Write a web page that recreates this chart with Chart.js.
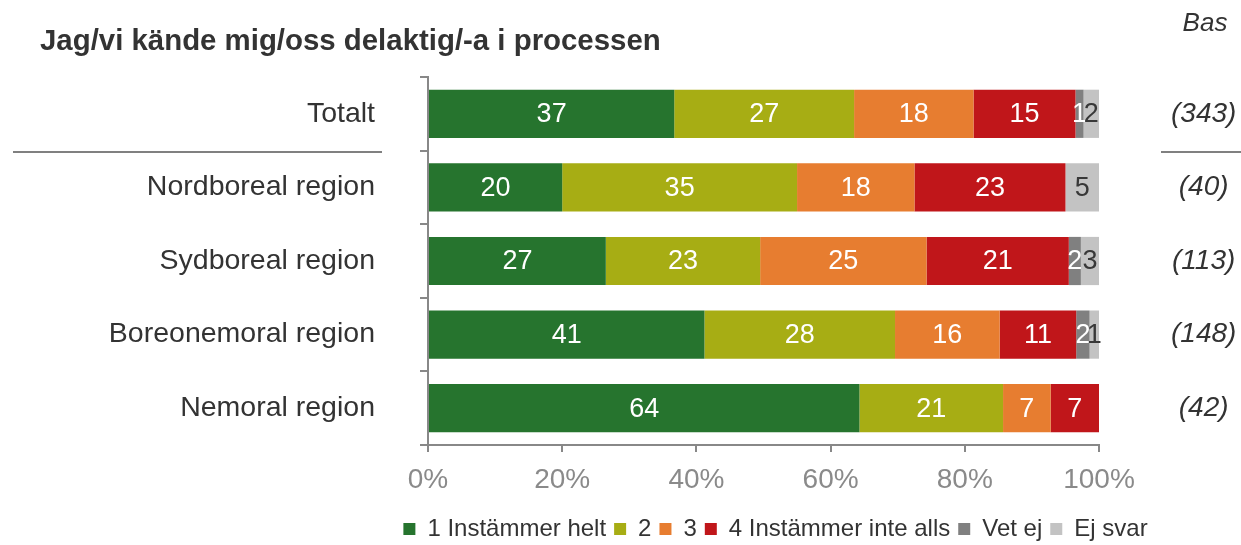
<!DOCTYPE html>
<html>
<head>
<meta charset="utf-8">
<script src="https://cdn.jsdelivr.net/npm/chart.js@4/dist/chart.umd.min.js"></script>
<style>
html,body{margin:0;padding:0;background:#fff;}
#wrap{width:1241px;height:545px;}
</style>
</head>
<body>
<div id="wrap"><canvas id="c" width="1241" height="545"></canvas></div>
<script>
const titleText = 'Jag/vi kände mig/oss delaktig/-a i processen';
const basTitle = 'Bas';
const categories = ['Totalt', 'Nordboreal region', 'Sydboreal region', 'Boreonemoral region', 'Nemoral region'];
const bases = ['(343)', '(40)', '(113)', '(148)', '(42)'];
const seriesNames = ['1 Instämmer helt', '2', '3', '4 Instämmer inte alls', 'Vet ej', 'Ej svar'];
const helt   = [36.7, 20.0, 26.5, 41.2, 64.3];
const two    = [26.8, 35.0, 23.0, 28.4, 21.4];
const three  = [17.8, 17.5, 24.8, 15.6, 7.1];
const four   = [15.2, 22.5, 21.2, 11.4, 7.2];
const vetEj  = [1.2, 0, 1.8, 2.0, 0];
const ejSvar = [2.3, 5.0, 2.7, 1.4, 0];
const xTicks = [0, 20, 40, 60, 80, 100];

const colors = ['#26742E', '#A7AD14', '#E77D30', '#C0161A', '#808080', '#C3C3C3'];
const labelColors = ['#fff', '#fff', '#fff', '#fff', '#fff', '#383838'];
const FONT = '"Liberation Sans", Arial, sans-serif';
const seriesData = [helt, two, three, four, vetEj, ejSvar];

const decorPlugin = {
  id: 'decor',
  afterLayout(chart) {
    const lg = chart.legend;
    if (lg) { lg.left += 155; lg.right += 155; }
  },
  afterDraw(chart) {
    const ctx = chart.ctx;
    const y = chart.scales.y;
    ctx.save();
    ctx.fillStyle = '#333';
    ctx.textBaseline = 'alphabetic';
    ctx.textAlign = 'left';
    ctx.font = 'bold 29.4px ' + FONT;
    ctx.fillText(titleText, 40, 50);
    ctx.font = 'italic 26px ' + FONT;
    ctx.textAlign = 'center';
    ctx.fillText(basTitle, 1205, 31);
    const sy = Math.round(y.getPixelForValue(0.5)) + 1;
    ctx.strokeStyle = '#808080';
    ctx.lineWidth = 2;
    ctx.beginPath();
    ctx.moveTo(13, sy); ctx.lineTo(382, sy);
    ctx.moveTo(1161, sy); ctx.lineTo(1241, sy);
    ctx.stroke();
    ctx.restore();
  }
};

const barLabelPlugin = {
  id: 'barLabels',
  afterDatasetsDraw(chart) {
    const ctx = chart.ctx;
    ctx.save();
    ctx.font = '27px ' + FONT;
    ctx.textAlign = 'center';
    ctx.textBaseline = 'middle';
    chart.data.datasets.forEach((ds, i) => {
      const meta = chart.getDatasetMeta(i);
      meta.data.forEach((el, j) => {
        const v = ds.data[j];
        if (v >= 0.5) {
          const p = el.getCenterPoint();
          ctx.fillStyle = labelColors[i];
          ctx.fillText(String(Math.round(v)), p.x, p.y + 1);
        }
      });
    });
    ctx.restore();
  }
};

new Chart(document.getElementById('c'), {
  type: 'bar',
  data: {
    labels: categories,
    datasets: seriesNames.map((n, i) => ({
      label: n,
      data: seriesData[i],
      backgroundColor: colors[i],
      borderWidth: 0,
      categoryPercentage: 1,
      barPercentage: 0.655,
      yAxisID: 'y'
    }))
  },
  options: {
    indexAxis: 'y',
    responsive: false,
    devicePixelRatio: 1,
    animation: false,
    layout: { padding: { top: 77, left: 0, right: 0, bottom: -6 } },
    plugins: {
      title: { display: false },
      tooltip: { enabled: false },
      legend: {
        display: true,
        position: 'bottom',
        labels: {
          boxWidth: 12,
          boxHeight: 12,
          padding: 8,
          color: '#333',
          font: { family: FONT, size: 24 }
        }
      }
    },
    scales: {
      x: {
        stacked: true,
        min: 0,
        max: 100,
        afterBuildTicks(s) { s.ticks = xTicks.map(v => ({ value: v })); },
        afterFit(s) { s.height = 64; },
        ticks: {
          color: '#8A8A8A',
          padding: 11,
          font: { family: FONT, size: 28 },
          callback: v => v + '%'
        },
        grid: { drawOnChartArea: false, drawTicks: true, tickLength: 7, color: '#888', lineWidth: 2 },
        border: { display: true, color: '#888', width: 2 }
      },
      y: {
        stacked: true,
        position: 'left',
        offset: true,
        afterFit(s) { s.width = 428; s.paddingTop = 0; s.paddingBottom = 0; },
        ticks: {
          color: '#333',
          padding: 45,
          font: { family: FONT, size: 28.5 }
        },
        grid: { offset: true, drawOnChartArea: false, drawTicks: true, tickLength: 8, color: '#888', lineWidth: 2 },
        border: { display: true, color: '#888', width: 2 }
      },
      y2: {
        type: 'category',
        labels: bases,
        position: 'right',
        offset: true,
        display: true,
        afterFit(s) { s.width = 142; s.paddingTop = 0; s.paddingBottom = 0; },
        ticks: {
          color: '#333',
          padding: 72,
          crossAlign: 'center',
          font: { family: FONT, size: 28, style: 'italic' }
        },
        grid: { display: false, drawTicks: false, drawOnChartArea: false },
        border: { display: false }
      }
    }
  },
  plugins: [barLabelPlugin, decorPlugin]
});
</script>
</body>
</html>
